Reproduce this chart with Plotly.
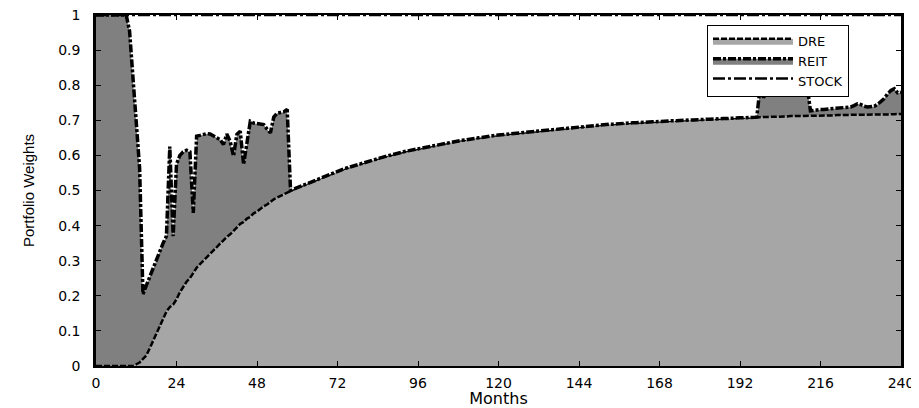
import plotly.graph_objects as go

# ---------------- data ----------------
months = list(range(0, 241))

x_tick_vals = [0, 24, 48, 72, 96, 120, 144, 168, 192, 216, 240]
x_tick_text = ["0", "24", "48", "72", "96", "120", "144", "168", "192", "216", "240"]
y_tick_vals = [0, 0.1, 0.2, 0.3, 0.4, 0.5, 0.6, 0.7, 0.8, 0.9, 1.0]
y_tick_text = ["0", "0.1", "0.2", "0.3", "0.4", "0.5", "0.6", "0.7", "0.8", "0.9", "1"]

# DRE weight, months 0..240
dre = [
    0, 0, 0, 0, 0, 0, 0, 0, 0, 0,
    0, 0, 0.005, 0.01, 0.02, 0.03, 0.05, 0.07, 0.09, 0.11,
    0.13, 0.155, 0.168, 0.175, 0.19, 0.21, 0.225, 0.24, 0.25, 0.265,
    0.28, 0.29, 0.30, 0.31, 0.32, 0.33, 0.34, 0.35, 0.36, 0.368,
    0.375, 0.385, 0.395, 0.405, 0.41, 0.42, 0.425, 0.435, 0.44, 0.448,
    0.455, 0.46, 0.468, 0.475, 0.48, 0.485, 0.49, 0.495, 0.50, 0.504,
    0.508, 0.512, 0.516, 0.52, 0.524, 0.528, 0.532, 0.536, 0.54, 0.544,
    0.548, 0.552, 0.555, 0.559, 0.562, 0.565, 0.568, 0.571, 0.574, 0.577,
    0.58, 0.583, 0.586, 0.589, 0.591, 0.594, 0.596, 0.599, 0.601, 0.604,
    0.606, 0.608, 0.611, 0.613, 0.615, 0.617, 0.619, 0.621, 0.623, 0.625,
    0.627, 0.629, 0.631, 0.633, 0.635, 0.637, 0.638, 0.64, 0.641, 0.643,
    0.644, 0.646, 0.647, 0.649, 0.65, 0.651, 0.653, 0.654, 0.655, 0.657,
    0.658, 0.659, 0.66, 0.661, 0.662, 0.663, 0.664, 0.665, 0.666, 0.667,
    0.668, 0.669, 0.67, 0.671, 0.672, 0.673, 0.674, 0.675, 0.676, 0.677,
    0.678, 0.679, 0.68, 0.681, 0.682, 0.683, 0.684, 0.684, 0.685, 0.686,
    0.687, 0.687, 0.688, 0.689, 0.689, 0.69, 0.69, 0.691, 0.692, 0.692,
    0.693, 0.693, 0.694, 0.694, 0.695, 0.695, 0.696, 0.696, 0.697, 0.697,
    0.698, 0.698, 0.699, 0.699, 0.7, 0.7, 0.7, 0.701, 0.701, 0.702,
    0.702, 0.703, 0.703, 0.703, 0.704, 0.704, 0.705, 0.705, 0.705, 0.706,
    0.706, 0.707, 0.707, 0.707, 0.708, 0.708, 0.708, 0.709, 0.709, 0.709,
    0.71, 0.71, 0.71, 0.711, 0.711, 0.711, 0.711, 0.712, 0.712, 0.712,
    0.712, 0.712, 0.713, 0.713, 0.713, 0.713, 0.714, 0.714, 0.714, 0.714,
    0.714, 0.715, 0.715, 0.715, 0.715, 0.715, 0.715, 0.716, 0.716, 0.716,
    0.716, 0.716, 0.716, 0.716, 0.717, 0.717, 0.717, 0.717, 0.717, 0.718,
    0.718,
]

# REIT weight, months 0..57
reit_early = [
    1.0, 1.0, 1.0, 1.0, 1.0, 1.0, 1.0, 1.0, 1.0, 1.0,
    0.955, 0.824, 0.69, 0.554, 0.185, 0.20, 0.20, 0.205, 0.21, 0.215,
    0.22, 0.215, 0.457, 0.195, 0.385, 0.39, 0.385, 0.375, 0.36, 0.171,
    0.375, 0.367, 0.36, 0.352, 0.341, 0.326, 0.31, 0.295, 0.271, 0.293,
    0.265, 0.213, 0.265, 0.264, 0.164, 0.22, 0.272, 0.257, 0.25, 0.241,
    0.233, 0.215, 0.196, 0.234, 0.24, 0.237, 0.234, 0.236,
]
# REIT weight, months 58..197 (none held)
reit_middle = [0.0] * 140
# REIT weight, months 198..240
reit_late = [
    0.086, 0.056, 0.068, 0.073, 0.074, 0.075, 0.077, 0.078, 0.08, 0.08,
    0.083, 0.085, 0.078, 0.094, 0.087, 0.014, 0.015, 0.017, 0.017, 0.017,
    0.018, 0.019, 0.019, 0.019, 0.019, 0.02, 0.021, 0.023, 0.027, 0.031,
    0.029, 0.024, 0.022, 0.022, 0.024, 0.029, 0.035, 0.045, 0.058, 0.068,
    0.073, 0.06, 0.062,
]
reit = reit_early + reit_middle + reit_late

# STOCK weight is the remainder of the fully invested portfolio
stock = [max(0.0, 1.0 - d - r) for d, r in zip(dre, reit)]

# cumulative (stacked) levels
level_dre = dre
level_reit = [d + r for d, r in zip(dre, reit)]
level_stock = [d + r + s for d, r, s in zip(dre, reit, stock)]

# ---------------- figure ----------------
fig = go.Figure()

fig.add_trace(go.Scatter(
    x=months, y=level_dre, name="DRE", mode="lines",
    fill="tozeroy", fillcolor="#a6a6a6",
    line=dict(color="black", width=2.5, dash="6px,2px"),
    cliponaxis=False, hoverinfo="skip",
))
fig.add_trace(go.Scatter(
    x=months, y=level_reit, name="REIT", mode="lines",
    fill="tonexty", fillcolor="#808080",
    line=dict(color="black", width=3.5, dash="8px,2px,3px,2px"),
    cliponaxis=False, hoverinfo="skip",
))
fig.add_trace(go.Scatter(
    x=months, y=level_stock, name="STOCK", mode="lines",
    fill="tonexty", fillcolor="white",
    line=dict(color="black", width=2.5, dash="12px,3px,3px,3px"),
    cliponaxis=False, hoverinfo="skip",
))

tick_font = dict(family="DejaVu Sans, Liberation Sans, Arial", size=14, color="black")

fig.update_layout(
    width=911, height=400,
    margin=dict(l=88, r=18, t=7, b=42, autoexpand=False),
    paper_bgcolor="white", plot_bgcolor="white",
    showlegend=True,
    legend=dict(
        x=0.759, y=0.972, xanchor="left", yanchor="top",
        bgcolor="white", bordercolor="black", borderwidth=1,
        font=dict(family="DejaVu Sans, Liberation Sans, Arial", size=13, color="black"),
        traceorder="normal", itemwidth=80, tracegroupgap=0,
    ),
    xaxis=dict(
        range=[0, 240], tickmode="array", tickvals=x_tick_vals, ticktext=x_tick_text,
        ticks="inside", ticklen=5, tickwidth=1, tickcolor="black",
        showline=True, linecolor="black", linewidth=1.5, mirror="ticks",
        showgrid=False, zeroline=False, tickfont=tick_font, ticklabelstandoff=3,
        ticklabeloverflow="allow",
        title=dict(text="Months", font=dict(family="DejaVu Sans, Liberation Sans, Arial", size=16, color="black"), standoff=7),
        automargin=False,
    ),
    yaxis=dict(
        range=[0, 1], tickmode="array", tickvals=y_tick_vals, ticktext=y_tick_text,
        ticks="inside", ticklen=5, tickwidth=1, tickcolor="black",
        showline=True, linecolor="black", linewidth=2.5, mirror="ticks",
        showgrid=False, zeroline=False, tickfont=tick_font, ticklabelstandoff=10,
        ticklabeloverflow="allow",
        title=dict(text="Portfolio Weights", font=dict(family="Liberation Sans, Arial", size=15, color="black"), standoff=20),
        automargin=False,
    ),
)

fig.write_html("out.html")
